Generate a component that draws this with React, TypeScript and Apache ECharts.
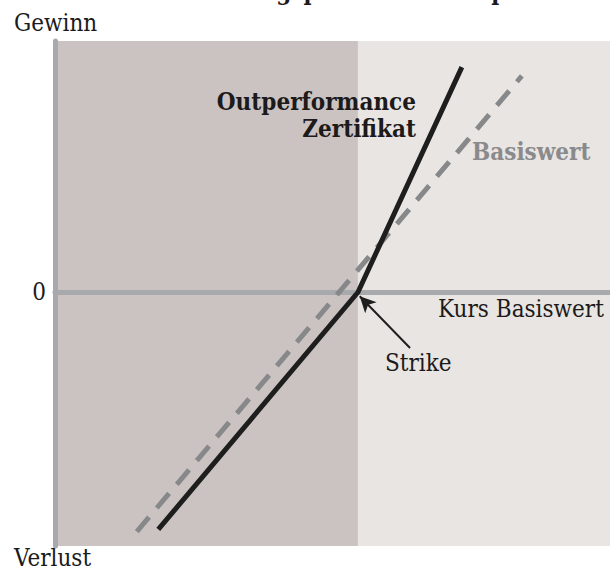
import React, { useEffect, useRef } from "react";
import * as echarts from "echarts";

// Kurs Basiswert (x, Strike = 100) / Gewinn-Verlust (y)
const strike = 100;
const xRange = [0, 183.2];
const yRange = [-101, 100];
const basiswertX = [27.0, 154.1];
const basiswertY = [-95.3, 86.1];
const zertifikatX = [34.1, 100, 134.3];
const zertifikatY = [-94.4, 0, 89.6];
const arrowTail = [117.2, -22.2];
const arrowHead = [100.6, -1.6];
const yLabels = [0];

const SERIF = "'DejaVu Serif Condensed', 'DejaVu Serif', serif";
const TEXT = "#1c1a1a";

export default function App() {
  const ref = useRef<HTMLDivElement>(null);
  useEffect(() => {
    document.body.style.margin = "0";
    const chart = echarts.init(ref.current!, null, { renderer: "svg" });
    const txt = (text: string, x: number, y: number, opts: any = {}) => ({
      type: "text",
      x,
      y,
      style: {
        text,
        fontFamily: SERIF,
        fontSize: 24,
        fill: TEXT,
        verticalAlign: "middle",
        align: "left",
        ...opts,
      },
      z: 10,
    });
    chart.setOption({
      animation: false,
      grid: { left: 55, right: 0, top: 41, bottom: 25 },
      xAxis: {
        type: "value",
        z: 3,
        min: xRange[0],
        max: xRange[1],
        axisLine: { show: true, onZero: true, lineStyle: { color: "#a8a9ad", width: 5 } },
        axisTick: { show: false },
        axisLabel: { show: false },
        splitLine: { show: false },
      },
      yAxis: {
        type: "value",
        z: 3,
        min: yRange[0],
        max: yRange[1],
        axisLine: { show: true, lineStyle: { color: "#a8a9ad", width: 5 } },
        axisTick: { show: false },
        axisLabel: {
          customValues: yLabels,
          fontFamily: SERIF,
          fontSize: 24,
          color: TEXT,
          margin: 9,
        },
        splitLine: { show: false },
      },
      series: [
        {
          type: "line",
          z: 0,
          data: [],
          markArea: {
            silent: true,
            z: 0,
            data: [
              [{ xAxis: xRange[0], itemStyle: { color: "#cbc3c1" } }, { xAxis: strike }],
              [{ xAxis: strike, itemStyle: { color: "#e9e5e2" } }, { xAxis: xRange[1] }],
            ],
          },
        },
        {
          name: "Basiswert",
          type: "line",
          showSymbol: false,
          data: basiswertX.map((x, i) => [x, basiswertY[i]]),
          lineStyle: { color: "#87888a", width: 5, type: [19, 12] },
          z: 5,
        },
        {
          name: "Outperformance Zertifikat",
          type: "line",
          showSymbol: false,
          data: zertifikatX.map((x, i) => [x, zertifikatY[i]]),
          lineStyle: { color: "#1e1e1e", width: 5, join: "miter" },
          z: 6,
          markLine: {
            silent: true,
            z: 7,
            symbol: ["none", "arrow"],
            symbolSize: [12, 16],
            label: { show: false },
            lineStyle: { color: "#1e1e1e", width: 2, type: "solid" },
            data: [[{ coord: arrowTail }, { coord: arrowHead }]],
          },
        },
      ],
      graphic: [
        txt("Auszahlungsprofil eines Outperformance-Zertifikats", 150, -9, { fontWeight: "bold" }),
        txt("Gewinn", 14, 23),
        txt("Verlust", 14, 558),
        txt("Kurs Basiswert", 438, 309),
        txt("Strike", 385, 363),
        txt("Outperformance", 416, 101, { fontWeight: "bold", align: "right" }),
        txt("Zertifikat", 416, 128, { fontWeight: "bold", align: "right" }),
        txt("Basiswert", 472, 151, { fontWeight: "bold", fill: "#8a8a8c" }),
      ],
    });
    return () => chart.dispose();
  }, []);
  return <div ref={ref} style={{ width: 610, height: 571 }} />;
}
